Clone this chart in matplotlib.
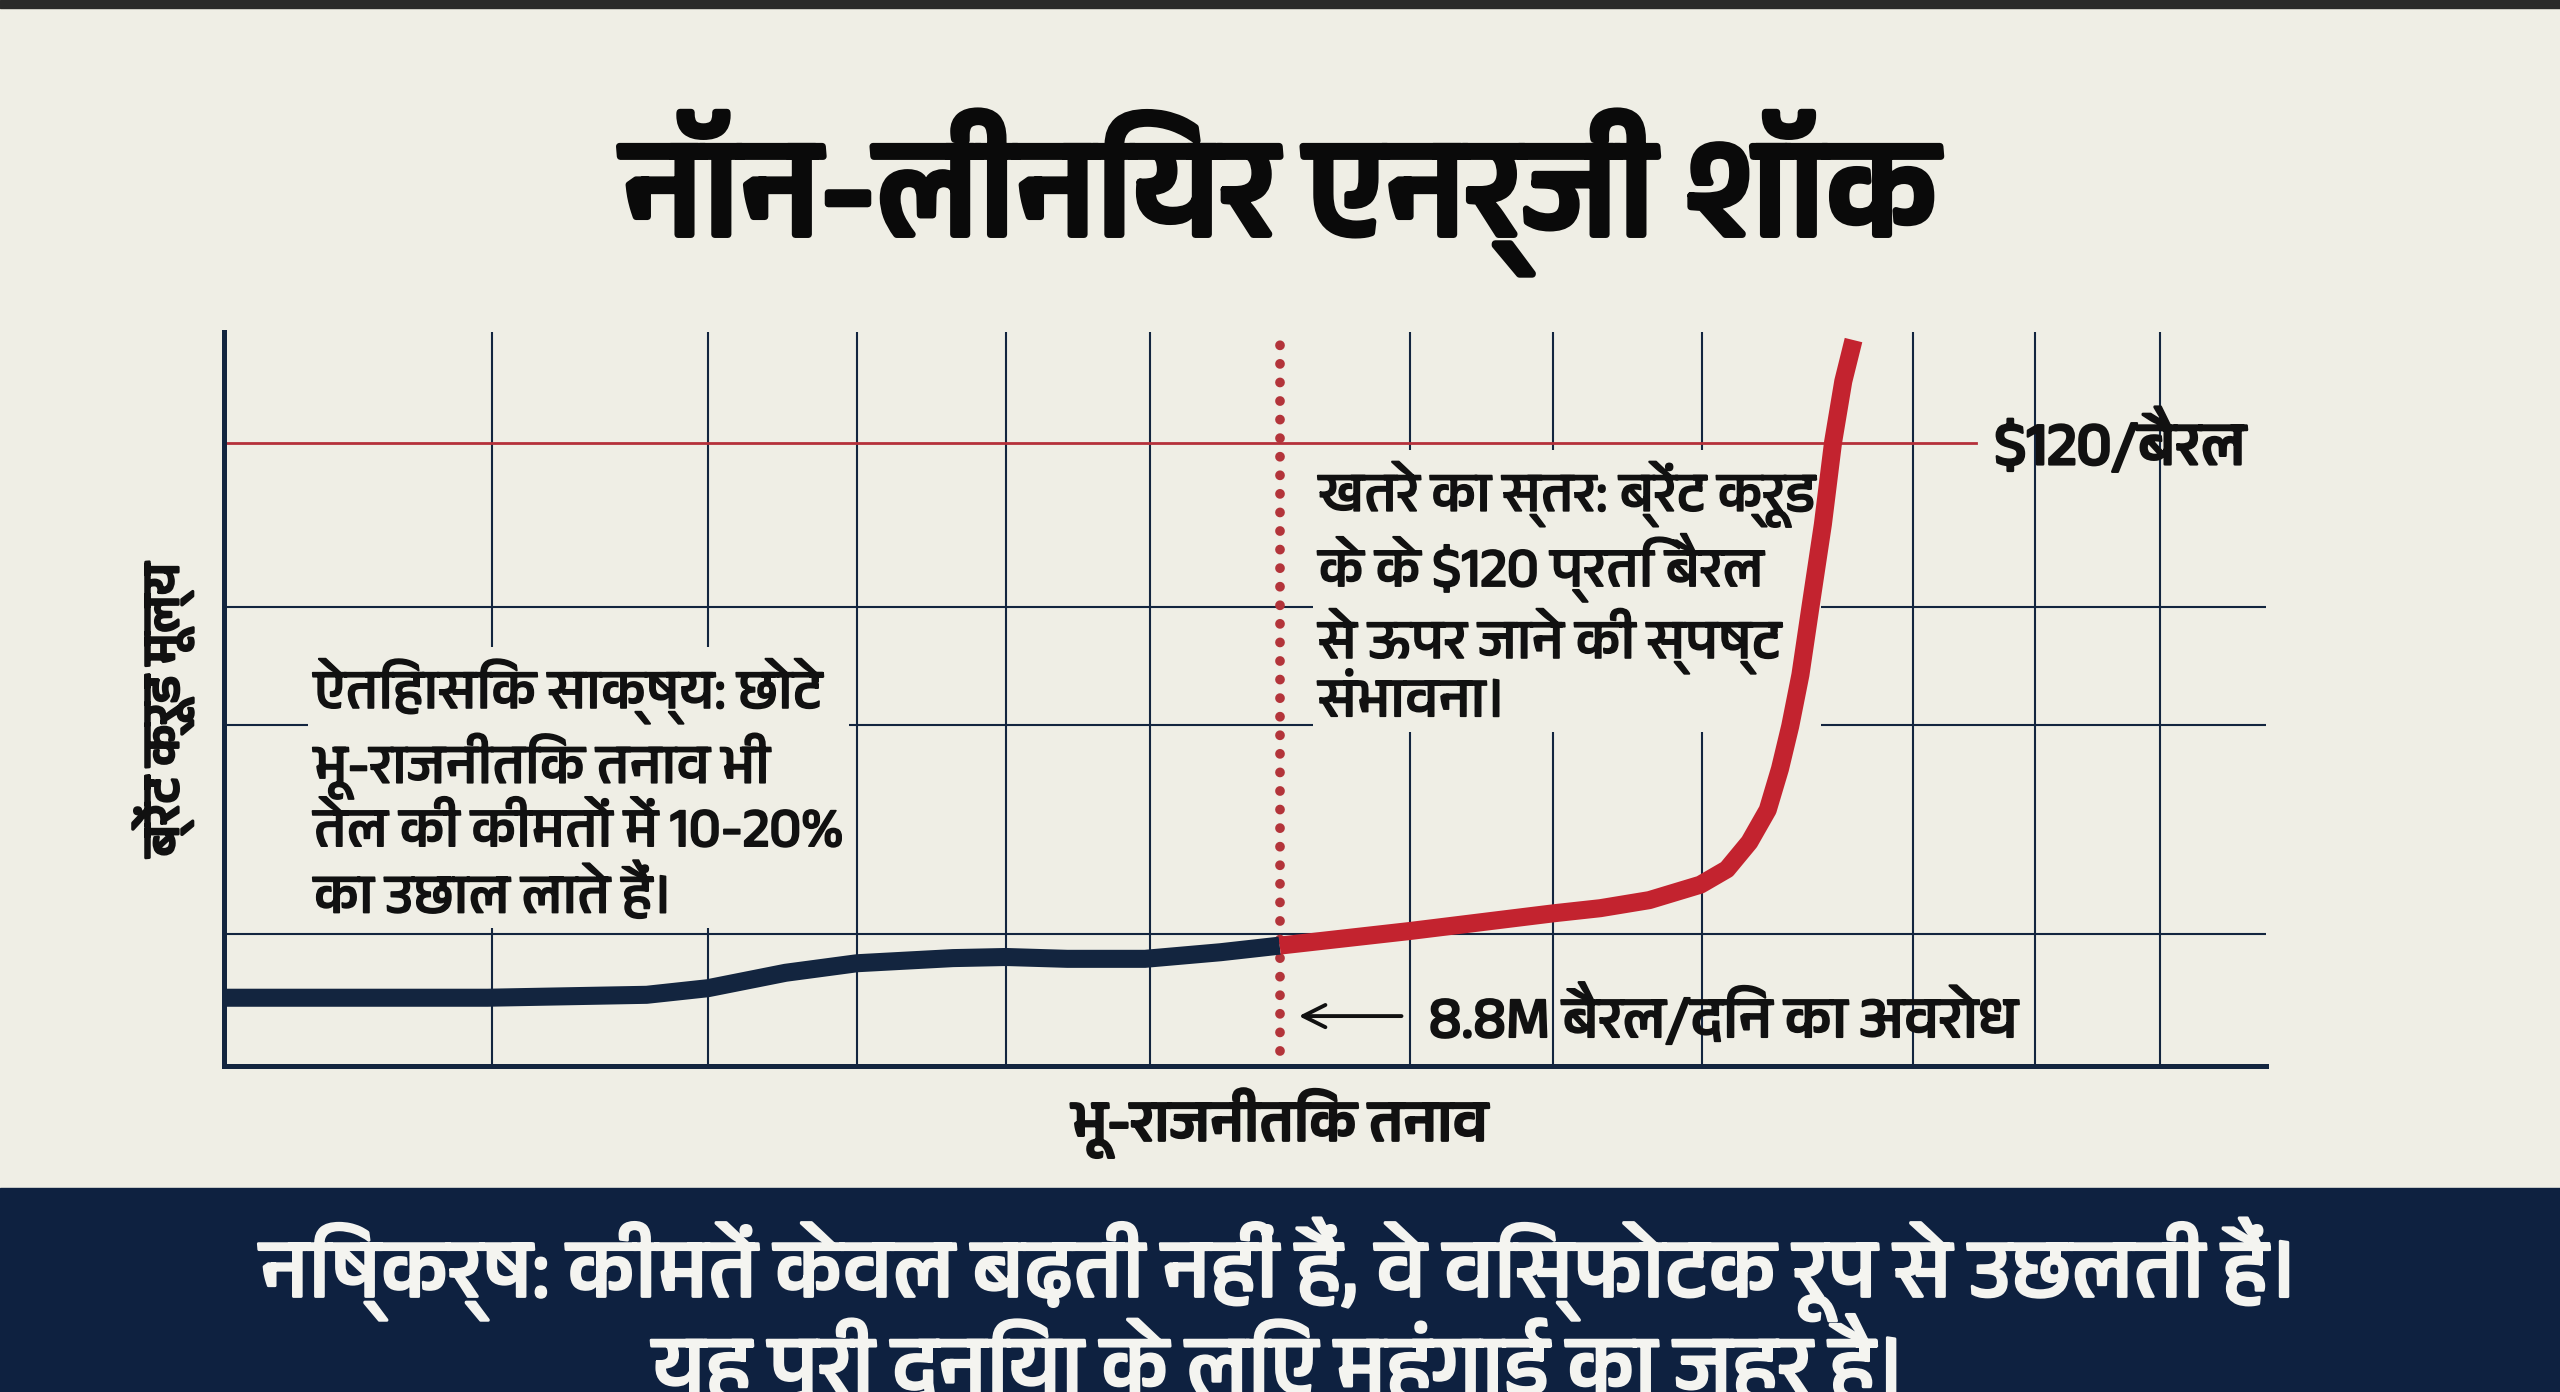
import matplotlib
matplotlib.use("Agg")
import matplotlib.pyplot as plt
from matplotlib import font_manager as fm
from matplotlib import patheffects as pe
from matplotlib.ft2font import FT2Font

# ---------------- data ----------------
title = "नॉन-लीनियर एनर्जी शॉक"
x_label = "भू-राजनीतिक तनाव"
y_label = "ब्रेंट क्रूड मूल्य"
left_note = "ऐतिहासिक साक्ष्य: छोटे\nभू-राजनीतिक तनाव भी\nतेल की कीमतों में 10-20%\nका उछाल लाते हैं।"
right_note = "खतरे का स्तर: ब्रेंट क्रूड\nके के $120 प्रति बैरल\nसे ऊपर जाने की स्पष्ट\nसंभावना।"
threshold_label = "$120/बैरल"
barrier_label = "8.8M बैरल/दिन का अवरोध"
banner_lines = ["निष्कर्ष: कीमतें केवल बढ़ती नहीं हैं, वे विस्फोटक रूप से उछलती हैं।",
                "यह पूरी दुनिया के लिए महंगाई का जहर है।"]

# calm phase (navy) curve, tension 0-100 vs price index 0-100
calm_x = [0.1, 12.9, 20.7, 23.7, 27.5, 31.0, 35.7, 38.3, 41.3, 45.1, 48.8, 51.7]
calm_y = [9.3, 9.3, 9.7, 10.6, 12.7, 14.0, 14.7, 14.85, 14.6, 14.6, 15.5, 16.4]
# shock phase (red) curve
shock_x = [51.7, 58.1, 65.1, 67.4, 69.8, 72.3, 73.6, 74.7, 75.6, 76.2, 76.7, 77.2, 77.7,
           78.3, 78.8, 79.3, 79.8]
shock_y = [16.4, 18.4, 20.8, 21.5, 22.6, 24.7, 26.8, 30.5, 34.9, 40.5, 46.3, 53.3, 62.7,
           73.8, 85.0, 93.3, 98.9]

threshold_y = 84.9
barrier_x = 51.7
grid_x = [13.1, 23.7, 31.0, 38.3, 45.35, 58.1, 65.1, 72.4, 82.7, 88.7, 94.8]
grid_y = [18.0, 46.5, 62.5]

# ---------------- fonts ----------------
def find_font(ch):
    best = None
    for f in fm.fontManager.ttflist:
        try:
            ft = FT2Font(f.fname)
            if ord(ch) in ft.get_charmap():
                if "Devanagari" in f.name:
                    return f.name
                if best is None:
                    best = f.name
        except Exception:
            pass
    return best

dev = find_font("न")
fams = ([dev] if dev else []) + ["DejaVu Sans"]
plt.rcParams["font.family"] = fams


def bold(w, c="#111111"):
    return [pe.withStroke(linewidth=w, foreground=c)]


BG = "#efeee5"
NAVY = "#13253f"
RED = "#c3232f"
DOT = "#b3343a"
BAND = "#0e2140"
INK = "#111111"

fig = plt.figure(figsize=(25.6, 13.92), dpi=100, facecolor=BG)

fig.patches.append(plt.Rectangle((0, 1 - 8 / 1392), 1, 8 / 1392, transform=fig.transFigure,
                                 color="#2a2a2a", zorder=0))
fig.patches.append(plt.Rectangle((0, 0), 1, (1392 - 1188) / 1392, transform=fig.transFigure,
                                 color=BAND, zorder=0))

ax = fig.add_axes([224 / 2560, (1392 - 1066) / 1392, (2266 - 224) / 2560, (1066 - 332) / 1392])
ax.patch.set_alpha(0)
ax.set_xlim(0, 100)
ax.set_ylim(0, 100)
ax.set_xticks([])
ax.set_yticks([])
for s in ["top", "right"]:
    ax.spines[s].set_visible(False)
for s in ["left", "bottom"]:
    ax.spines[s].set_color(NAVY)
    ax.spines[s].set_linewidth(3.6)
    ax.spines[s].set_zorder(6)

for gx in grid_x:
    ax.axvline(gx, color=NAVY, lw=1.5, zorder=1)
for gy in grid_y:
    ax.axhline(gy, color=NAVY, lw=1.5, zorder=1)

ax.plot([0, 85.8], [threshold_y, threshold_y], color="#b5303a", lw=2.0, zorder=2)
ax.text(86.7, threshold_y, threshold_label, fontsize=44, color=INK,
        va="center", ha="left", parse_math=False, zorder=5, path_effects=bold(1.8))

ax.plot([barrier_x, barrier_x], [2, 100], color=DOT, lw=7, linestyle=(0, (0.01, 1.9)),
        dash_capstyle="round", zorder=4)

ax.plot(calm_x, calm_y, color=NAVY, lw=13, solid_capstyle="butt", solid_joinstyle="round", zorder=7)
ax.plot(shock_x, shock_y, color=RED, lw=13, solid_capstyle="butt", solid_joinstyle="round", zorder=7)

box = dict(facecolor=BG, edgecolor="none", pad=4)
ax.text(4.4, 37.5, left_note, fontsize=40, color=INK, va="center", ha="left",
        linespacing=1.2, bbox=box, parse_math=False, zorder=5, path_effects=bold(1.2))
ax.text(53.6, 64.3, right_note, fontsize=40, color=INK, va="center", ha="left",
        linespacing=1.14, bbox=box, parse_math=False, zorder=5, path_effects=bold(1.2))

ax.annotate("", xy=(52.5, 6.8), xytext=(57.8, 6.8),
            arrowprops=dict(arrowstyle="->", color=INK, lw=2.8, mutation_scale=40), zorder=5)
ax.text(59.0, 6.8, barrier_label, fontsize=42, color=INK, va="center", ha="left",
        parse_math=False, zorder=5, path_effects=bold(1.4))

ax.text(-0.030, 0.485, y_label, transform=ax.transAxes, rotation=90, fontsize=37,
        color=INK, ha="center", va="center", path_effects=bold(2.0))

fig.text(0.5, (1392 - 1123) / 1392, x_label, fontsize=42, color=INK,
         ha="center", va="center", path_effects=bold(2.0))
fig.text(0.5, (1392 - 193) / 1392, title, fontsize=100, color="#0a0a0a",
         ha="center", va="center", path_effects=bold(5.0, "#0a0a0a"))

fig.text(0.5, (1392 - 1269) / 1392, banner_lines[0], fontsize=60, color="#f4f4f0",
         ha="center", va="center", parse_math=False, path_effects=bold(2.0, "#f4f4f0"))
fig.text(0.5, (1392 - 1366) / 1392, banner_lines[1], fontsize=60, color="#f4f4f0",
         ha="center", va="center", parse_math=False, path_effects=bold(2.0, "#f4f4f0"))

fig.savefig("out.png", dpi=100, facecolor=BG)
